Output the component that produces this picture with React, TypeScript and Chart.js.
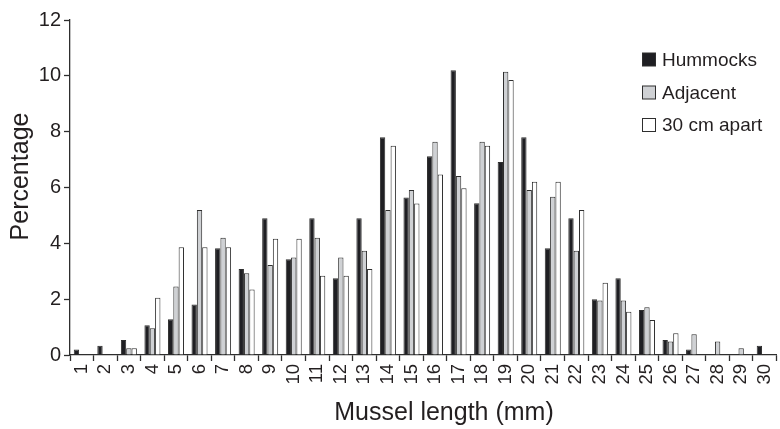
import React, { useEffect, useRef } from "react";
import { Chart, registerables } from "chart.js";

Chart.register(...registerables);

const categories: string[] = Array.from({ length: 30 }, (_, i) => String(i + 1));
const hummocks: number[] = [0.2, 0.33, 0.54, 1.07, 1.28, 1.81, 3.82, 3.08, 4.9, 3.43, 4.9, 2.75, 4.9, 7.8, 5.64, 7.12, 10.2, 5.44, 6.91, 7.8, 3.82, 4.9, 2.0, 2.75, 1.61, 0.54, 0.2, 0, 0, 0.33];
const adjacent: number[] = [0, 0, 0.24, 0.96, 2.45, 5.19, 4.2, 2.93, 3.22, 3.49, 4.2, 3.49, 3.73, 5.19, 5.91, 7.64, 6.41, 7.64, 10.15, 5.91, 5.67, 3.73, 1.95, 1.95, 1.71, 0.48, 0.74, 0.48, 0.24, 0];
const apart30: number[] = [0, 0, 0.24, 2.05, 3.86, 3.86, 3.86, 2.35, 4.16, 4.16, 2.84, 2.84, 3.08, 7.5, 5.43, 6.47, 5.97, 7.5, 9.85, 6.21, 6.21, 5.19, 2.59, 1.55, 1.25, 0.78, 0, 0, 0, 0];
const seriesNames: string[] = ["Hummocks", "Adjacent", "30 cm apart"];
const xTitle = "Mussel length (mm)";
const yTitle = "Percentage";

const FONT = "'Liberation Sans', Arial, Helvetica, sans-serif";
const TEXT = "#231f20";
const LINE = "#2e2e2e";
const fills = ["#1f1f23", "#cfd1d4", "#ffffff"];

const overlayPlugin = {
  id: "overlay",
  afterDraw(chart: any) {
    const ctx = chart.ctx as CanvasRenderingContext2D;
    ctx.save();
    // legend
    const rowsY = [59.5, 92.5, 125];
    ctx.font = `19px ${FONT}`;
    ctx.textBaseline = "middle";
    ctx.textAlign = "left";
    chart.data.datasets.forEach((ds: any, i: number) => {
      const y = rowsY[i];
      ctx.fillStyle = ds.backgroundColor;
      ctx.fillRect(642.5, y - 6.5, 13, 13);
      ctx.strokeStyle = LINE;
      ctx.lineWidth = 1;
      ctx.strokeRect(642.5, y - 6.5, 13, 13);
      ctx.fillStyle = TEXT;
      ctx.fillText(ds.label, 662, y + 1);
    });
    // axis titles
    ctx.font = `25px ${FONT}`;
    ctx.fillStyle = TEXT;
    ctx.textBaseline = "alphabetic";
    ctx.textAlign = "center";
    ctx.fillText(xTitle, 444, 420);
    ctx.translate(28, 176.5);
    ctx.rotate(-Math.PI / 2);
    ctx.fillText(yTitle, 0, 0);
    ctx.restore();
  },
};

export default function App() {
  const ref = useRef<HTMLCanvasElement | null>(null);
  useEffect(() => {
    if (!ref.current) return;
    const chart = new Chart(ref.current, {
      type: "bar",
      data: {
        labels: categories,
        datasets: [hummocks, adjacent, apart30].map((d, i) => ({
          label: seriesNames[i],
          data: d,
          backgroundColor: fills[i],
          borderColor: LINE,
          borderWidth: 1,
          categoryPercentage: 0.68,
          barPercentage: 1,
        })),
      },
      options: {
        responsive: false,
        animation: false,
        devicePixelRatio: 1,
        layout: { padding: { left: 0, right: 5, top: 20, bottom: 0 } },
        plugins: { legend: { display: false }, tooltip: { enabled: false }, title: { display: false } },
        scales: {
          x: {
            type: "category",
            offset: true,
            border: { display: true, color: LINE, width: 1.3 },
            grid: { display: true, offset: true, drawOnChartArea: false, drawTicks: true, tickLength: 6, tickColor: LINE, tickWidth: 1.3 },
            ticks: { autoSkip: false, minRotation: 90, maxRotation: 90, padding: 3, color: TEXT, font: { family: FONT, size: 18.5 } },
            afterFit: (s: any) => { s.height = 74; },
          },
          y: {
            min: 0,
            max: 12,
            border: { display: true, color: LINE, width: 1.3 },
            grid: { display: true, drawOnChartArea: false, drawTicks: true, tickLength: 6, tickColor: LINE, tickWidth: 1.3 },
            ticks: { stepSize: 2, padding: 3, color: TEXT, font: { family: FONT, size: 20 } },
            afterFit: (s: any) => { s.width = 70; },
          },
        },
      },
      plugins: [overlayPlugin],
    });
    return () => chart.destroy();
  }, []);
  return (
    <div style={{ position: "fixed", left: 0, top: 0, width: 780, height: 429, overflow: "hidden", background: "#ffffff" }}>
      <canvas ref={ref} width={790} height={429} style={{ display: "block", width: 790, height: 429 }} />
    </div>
  );
}
